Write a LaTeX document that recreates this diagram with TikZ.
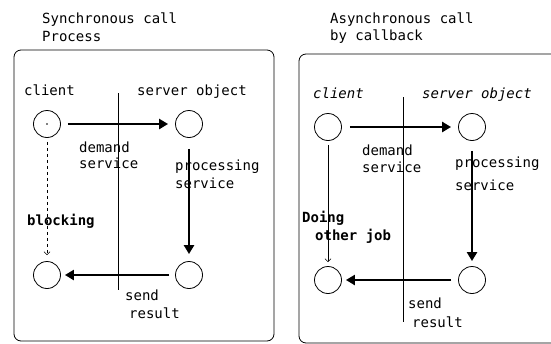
\documentclass[tikz,border=0pt]{standalone}
\usepackage{fontspec}
\setmainfont{DejaVu Sans Mono}
\usetikzlibrary{arrows.meta}

\tikzset{
  obj/.style={draw,circle,line width=0.8pt,minimum size=27pt,inner sep=0pt},
  lbl/.style={anchor=base west,inner sep=0pt,font=\fontsize{14}{16}\selectfont},
  flow/.style={line width=2.6pt,-{Triangle[length=9pt,width=10pt]}},
}

\begin{document}
\begin{tikzpicture}[x=1pt,y=-1pt]
\useasboundingbox (0,0) rectangle (551,343);

% left: synchronous call
\node[lbl] (t1) at (42,23) {Synchronous call};
\node[lbl] (t2) at (42,41) {Process};
\draw[line width=0.8pt,rounded corners=7pt] (14,50) rectangle (274,341);

\node[lbl] (c1) at (24,95) {client};
\node[lbl] (s1) at (137,95) {server object};

\node[obj] (ca) at (47,124) {};
\node[obj] (sa) at (189,124) {};
\node[obj] (cb) at (47,275) {};
\node[obj] (sb) at (189,275) {};
\fill (ca.center) circle (0.8pt);

\coordinate (m1) at (118,93);
\coordinate (m2) at (118,290);
\draw[line width=0.6pt] (m1) -- (m2);

\draw[flow] ([xshift=7pt]ca.east) -- ([xshift=-7pt]sa.west);
\draw[flow] ([yshift=-11pt]sa.south) -- ([yshift=7pt]sb.north);
\draw[flow] ([xshift=-6pt]sb.west) -- ([xshift=4pt]cb.east);
\draw[dashed,line width=0.6pt,-{Straight Barb[length=3pt]}] ([yshift=-4pt]ca.south) -- ([yshift=6pt]cb.north);

\node[lbl] (d1) at (79,152) {demand};
\node[lbl] (d2) at (79,168) {service};
\node[lbl] (p1) at (175,170) {processing};
\node[lbl] (p2) at (175,188) {service};
\node[lbl,font=\fontsize{14}{16}\selectfont\bfseries] (bl) at (27,225) {blocking};
\node[lbl] (r1) at (125,300) {send};
\node[lbl] (r2) at (129,318) {result};

% right: asynchronous call
\node[lbl] (t3) at (330,23) {Asynchronous call};
\node[lbl] (t4) at (330,40) {by callback};
\draw[line width=0.8pt,rounded corners=7pt] (299,54) rectangle (570,343);

\node[lbl,font=\fontsize{14}{16}\selectfont\itshape] (c2) at (313,98) {client};
\node[lbl,font=\fontsize{14}{16}\selectfont\itshape] (s2) at (422,98) {server object};

\node[obj] (cc) at (328,127) {};
\node[obj] (sc) at (472,127) {};
\node[obj] (cd) at (328,280) {};
\node[obj] (sd) at (472,280) {};

\coordinate (m3) at (403,97);
\coordinate (m4) at (403,322);
\draw[line width=0.6pt] (m3) -- (m4);

\draw[flow] ([xshift=8pt]cc.east) -- ([xshift=-7pt]sc.west);
\draw[flow] ([yshift=-10pt]sc.south) -- ([yshift=5pt]sd.north);
\draw[flow] ([xshift=-7pt]sd.west) -- ([xshift=4pt]cd.east);
\draw[line width=0.6pt,-{Straight Barb[length=3pt]}] ([yshift=-4pt]cc.south) -- ([yshift=4pt]cd.north);

\node[lbl] (d3) at (362,155) {demand};
\node[lbl] (d4) at (362,172) {service};
\node[lbl] (p3) at (455,167) {processing};
\node[lbl] (p4) at (455,190) {service};
\node[lbl,font=\fontsize{14}{16}\selectfont\bfseries] (o1) at (302,222) {Doing};
\node[lbl,font=\fontsize{14}{16}\selectfont\bfseries] (o2) at (315,240) {other job};
\node[lbl] (r3) at (408,308) {send};
\node[lbl] (r4) at (412,327) {result};

\end{tikzpicture}
\end{document}
